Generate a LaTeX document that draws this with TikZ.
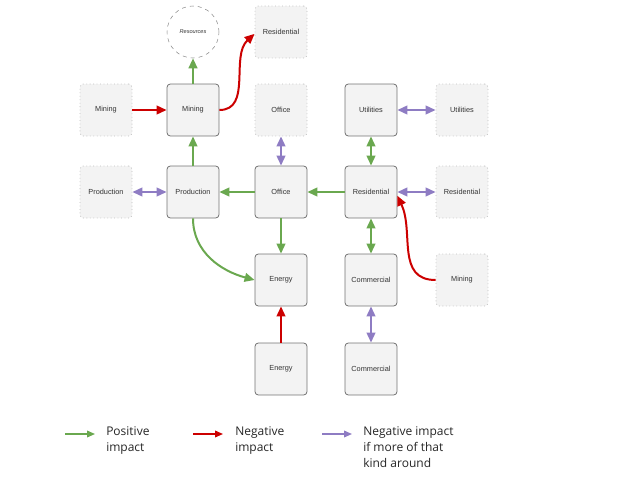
\documentclass[tikz,border=0pt]{standalone}
\usepackage{fontspec}
\setmainfont{Liberation Sans}
\newfontfamily\legendfont{Open Sans}
\usepackage{xcolor}
\usepackage{tikz}
\usetikzlibrary{arrows.meta, calc}
\definecolor{posgreen}{HTML}{6AA84F}
\definecolor{negred}{HTML}{CC0000}
\definecolor{cmpviolet}{HTML}{8E7CC3}
\definecolor{boxfill}{HTML}{F3F3F3}

\begin{document}
\begin{tikzpicture}[x=0.75pt, y=0.75pt, >={Triangle[length=7.5pt, width=6.5pt]},
  every node/.style={font=\fontsize{5.5}{6.5}\selectfont, text=black!80},
  box/.style={draw=black!55, line width=0.6pt, rounded corners=2.5pt, fill=boxfill,
              minimum size=39pt, inner sep=0pt},
  ghost/.style={box, draw=black!25, dotted},
  posline/.style={line width=1.5pt, draw=posgreen},
  negline/.style={line width=1.5pt, draw=negred},
  cmpline/.style={line width=1.5pt, draw=cmpviolet},
  legarrow/.style={-{Triangle[length=6pt, width=5pt]}, line width=1.1pt},
  legtext/.style={anchor=north west, align=left, inner sep=0pt, text=black!85,
                  font=\legendfont\fontsize{9}{12}\selectfont}]
  \useasboundingbox (0,0) rectangle (640,480);

  % top row
  \node[draw=black!45, dashed, circle, minimum size=39pt, inner sep=0pt, fill=white,
        font=\fontsize{4.2}{5}\selectfont\itshape] (resources) at (193,448) {Resources};
  \node[ghost] (resTop) at (281,448) {Residential};

  % second row
  \node[ghost] (miningL) at (106,370) {Mining};
  \node[box] (mining) at (193,370) {Mining};
  \node[ghost] (officeTop) at (281,370) {Office};
  \node[box] (util) at (371,370) {Utilities};
  \node[ghost] (utilR) at (462,370) {Utilities};

  % third row
  \node[ghost] (prodL) at (106,288) {Production};
  \node[box] (prod) at (193,288) {Production};
  \node[box] (office) at (281,288) {Office};
  \node[box] (res) at (371,288) {Residential};
  \node[ghost] (resR) at (462,288) {Residential};

  % fourth row
  \node[box] (energy) at (281,200) {Energy};
  \node[box] (comm) at (371,200) {Commercial};
  \node[ghost] (miningR) at (462,200) {Mining};

  % bottom row
  \node[box] (energyB) at (281,111) {Energy};
  \node[box] (commB) at (371,111) {Commercial};

  % positive impact
  \draw[posline, ->] (mining) -- (resources);
  \draw[posline, ->] (prod) -- (mining);
  \draw[posline, ->] (office) -- (prod);
  \draw[posline, ->] (res) -- (office);
  \draw[posline, ->] (office) -- (energy);
  \draw[posline, <->] (util) -- (res);
  \draw[posline, <->] (res) -- (comm);
  \draw[posline, ->] (prod.south) to[out=-90, in=165] (energy.west);

  % negative impact
  \draw[negline, ->] (miningL) -- (mining);
  \draw[negline, ->] (energyB) -- (energy);
  \draw[negline, ->] (mining.east) to[out=0, in=222] (resTop.184);
  \draw[negline, ->] (miningR.west) to[out=180, in=-65, looseness=1.1] (res.-8);

  % negative if more of that kind
  \draw[cmpline, <->] (prodL) -- (prod);
  \draw[cmpline, <->] (officeTop) -- (office);
  \draw[cmpline, <->] (util) -- (utilR);
  \draw[cmpline, <->] (res) -- (resR);
  \draw[cmpline, <->] (comm) -- (commB);

  % legend
  \coordinate (posA) at (65,46);   \coordinate (posB) at (95,46);
  \coordinate (negA) at (193,46);  \coordinate (negB) at (223,46);
  \coordinate (cmpA) at (322,46);  \coordinate (cmpB) at (352,46);
  \draw[legarrow, posgreen] (posA) -- (posB);
  \draw[legarrow, negred] (negA) -- (negB);
  \draw[legarrow, cmpviolet] (cmpA) -- (cmpB);
  \node[legtext] (posText) at (106,54) {Positive\\impact};
  \node[legtext] (negText) at (235,54) {Negative\\impact};
  \node[legtext] (cmpText) at (363,54) {Negative impact\\if more of that\\kind around};
\end{tikzpicture}
\end{document}
